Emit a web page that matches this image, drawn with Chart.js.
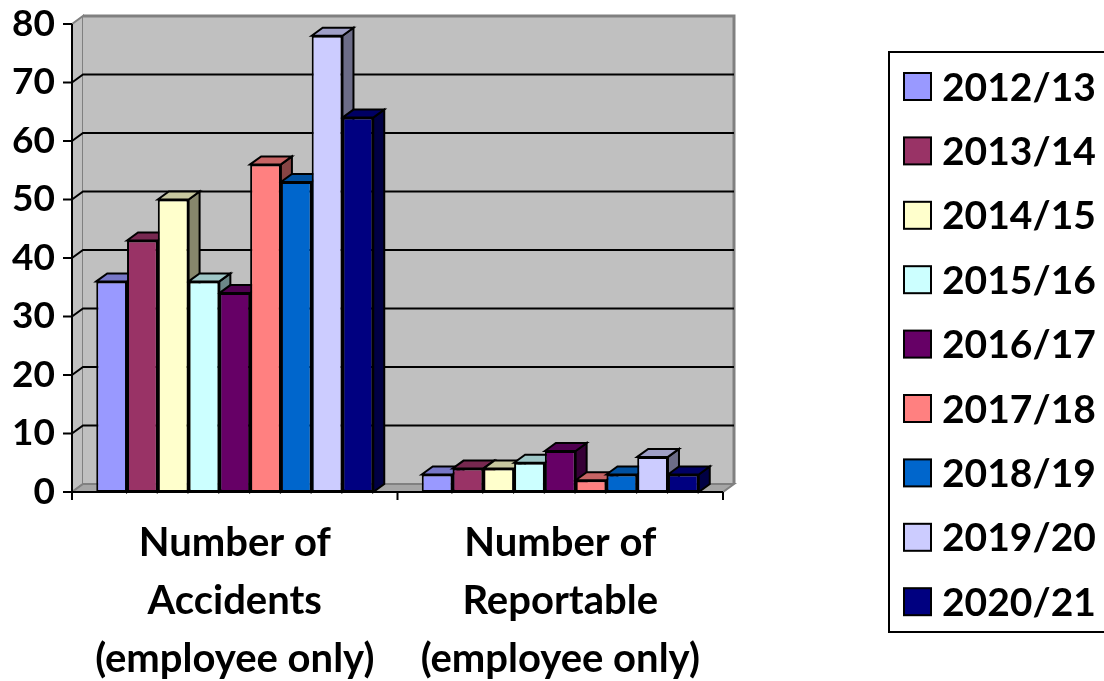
<!DOCTYPE html>
<html>
<head>
<meta charset="utf-8">
<script src="https://cdn.jsdelivr.net/npm/chart.js@4/dist/chart.umd.min.js"></script>
<style>
  html, body { margin: 0; padding: 0; background: #fff; }
  #wrap { width: 1104px; height: 681px; }
</style>
</head>
<body>
<div id="wrap"><canvas id="chart" width="1104" height="681"></canvas></div>
<script>
// categories on the x axis (multi-line labels)
const categories = [
    ['Number of', 'Accidents', '(employee only)'],
    ['Number of', 'Reportable', '(employee only)']
];
// one series per year
const seasons = ['2012/13', '2013/14', '2014/15', '2015/16', '2016/17', '2017/18', '2018/19', '2019/20', '2020/21'];
const accidents = [36, 43, 50, 36, 34, 56, 53, 78, 64];
const reportable = [3, 4, 4, 5, 7, 2, 3, 6, 3];

const colors = ['#9999FF', '#993366', '#FFFFCC', '#CCFFFF', '#660066', '#FF8080', '#0066CC', '#CCCCFF', '#000080'];

const DX = 11, DY = -8;   // 3d depth offset
const FONT = 'Lato';

function shade(hex, f) {
    const n = parseInt(hex.slice(1), 16);
    const r = Math.round(((n >> 16) & 255) * f);
    const g = Math.round(((n >> 8) & 255) * f);
    const b = Math.round((n & 255) * f);
    return 'rgb(' + r + ',' + g + ',' + b + ')';
}

function poly(ctx, pts, fill, stroke, lw) {
    ctx.beginPath();
    ctx.moveTo(pts[0][0], pts[0][1]);
    for (let i = 1; i < pts.length; i++) ctx.lineTo(pts[i][0], pts[i][1]);
    ctx.closePath();
    if (fill) { ctx.fillStyle = fill; ctx.fill(); }
    if (stroke) { ctx.strokeStyle = stroke; ctx.lineWidth = lw || 1; ctx.stroke(); }
}

const wall3d = {
    id: 'wall3d',
    beforeDatasetsDraw(chart) {
        const ctx = chart.ctx;
        const a = chart.chartArea;
        const y = chart.scales.y;
        const x = chart.scales.x;
        ctx.save();

        // side wall, back wall, floor
        poly(ctx, [[a.left, a.top], [a.left + DX, a.top + DY], [a.left + DX, a.bottom + DY], [a.left, a.bottom]], '#c0c0c0', '#808080', 2);
        poly(ctx, [[a.left + DX, a.top + DY], [a.right + DX, a.top + DY], [a.right + DX, a.bottom + DY], [a.left + DX, a.bottom + DY]], '#c0c0c0', null);
        poly(ctx, [[a.left, a.bottom], [a.left + DX, a.bottom + DY], [a.right + DX, a.bottom + DY], [a.right, a.bottom]], '#a6a6a6', '#808080', 2);

        // wall edges
        ctx.strokeStyle = '#808080';
        ctx.lineWidth = 3;
        ctx.beginPath();
        ctx.moveTo(a.left + DX, a.top + DY);
        ctx.lineTo(a.right + DX, a.top + DY);
        ctx.lineTo(a.right + DX, a.bottom + DY);
        ctx.stroke();

        // gridlines on side + back wall
        ctx.strokeStyle = '#000';
        ctx.lineWidth = 2;
        y.ticks.forEach(t => {
            if (t.value <= y.min || t.value >= y.max) return;
            const py = y.getPixelForValue(t.value);
            ctx.beginPath();
            ctx.moveTo(a.left, py);
            ctx.lineTo(a.left + DX, py + DY);
            ctx.lineTo(a.right + DX, py + DY);
            ctx.stroke();
        });

        // axes with tick marks
        ctx.beginPath();
        ctx.moveTo(a.left, a.top);
        ctx.lineTo(a.left, a.bottom + 8);
        ctx.moveTo(a.left, a.bottom);
        ctx.lineTo(a.right, a.bottom);
        y.ticks.forEach(t => {
            const py = y.getPixelForValue(t.value);
            ctx.moveTo(a.left - 9, py);
            ctx.lineTo(a.left, py);
        });
        const step = x.getPixelForTick(1) - x.getPixelForTick(0);
        for (let i = 0; i <= categories.length; i++) {
            const px = x.getPixelForTick(0) - step / 2 + i * step;
            ctx.moveTo(px, a.bottom);
            ctx.lineTo(px, a.bottom + 8);
        }
        ctx.stroke();

        // depth faces of the bars (top and side)
        chart.data.datasets.forEach((ds, di) => {
            const meta = chart.getDatasetMeta(di);
            meta.data.forEach(bar => {
                const p = bar.getProps(['x', 'y', 'base', 'width'], true);
                const l = p.x - p.width / 2, r = p.x + p.width / 2;
                const top = p.y, base = p.base;
                poly(ctx, [[r, top], [r + DX, top + DY], [r + DX, base + DY], [r, base]], shade(colors[di], 0.53), '#000', 2);
                poly(ctx, [[l, top], [l + DX, top + DY], [r + DX, top + DY], [r, top]], shade(colors[di], 0.78), '#000', 2);
            });
        });
        ctx.restore();
    },
    afterDraw(chart) {
        // boxed legend on the right
        const ctx = chart.ctx;
        ctx.save();
        ctx.strokeStyle = '#000';
        ctx.lineWidth = 2;
        ctx.strokeRect(889, 52, 240, 580);
        ctx.font = 'bold 39px ' + FONT;
        ctx.textBaseline = 'middle';
        ctx.textAlign = 'left';
        chart.data.datasets.forEach((ds, i) => {
            const cy = 86 + i * 64.4;
            ctx.fillStyle = ds.backgroundColor;
            ctx.fillRect(904, cy - 13, 27, 27);
            ctx.strokeRect(904, cy - 13, 27, 27);
            ctx.fillStyle = '#000';
            ctx.fillText(ds.label, 942, cy + 2);
        });
        ctx.restore();
    }
};

const datasets = seasons.map((s, i) => ({
    label: s,
    data: [accidents[i], reportable[i]],
    backgroundColor: colors[i],
    borderColor: '#000',
    borderWidth: 2,
    borderSkipped: false,
    categoryPercentage: 0.851,
    barPercentage: 1.0
}));

new Chart(document.getElementById('chart'), {
    type: 'bar',
    data: { labels: categories, datasets: datasets },
    options: {
        responsive: false,
        animation: false,
        devicePixelRatio: 1,
        layout: { padding: { top: 24, right: 381, left: 0, bottom: 0 } },
        plugins: {
            legend: { display: false },
            tooltip: { enabled: false }
        },
        scales: {
            x: {
                grid: { display: false, drawTicks: false },
                border: { display: false },
                ticks: {
                    color: '#000',
                    padding: 22,
                    maxRotation: 0,
                    autoSkip: false,
                    font: { family: FONT, weight: 'bold', size: 40, lineHeight: 1.45 }
                },
                afterFit: s => { s.height = 189; s.paddingLeft = 0; s.paddingRight = 0; }
            },
            y: {
                min: 0,
                max: 80,
                grid: { display: false, drawTicks: false },
                border: { display: false },
                ticks: {
                    stepSize: 10,
                    color: '#000',
                    padding: 17,
                    font: { family: FONT, weight: 'bold', size: 37 }
                },
                afterFit: s => { s.width = 72; s.paddingTop = 0; s.paddingBottom = 0; }
            }
        }
    },
    plugins: [wall3d]
});
</script>
</body>
</html>
